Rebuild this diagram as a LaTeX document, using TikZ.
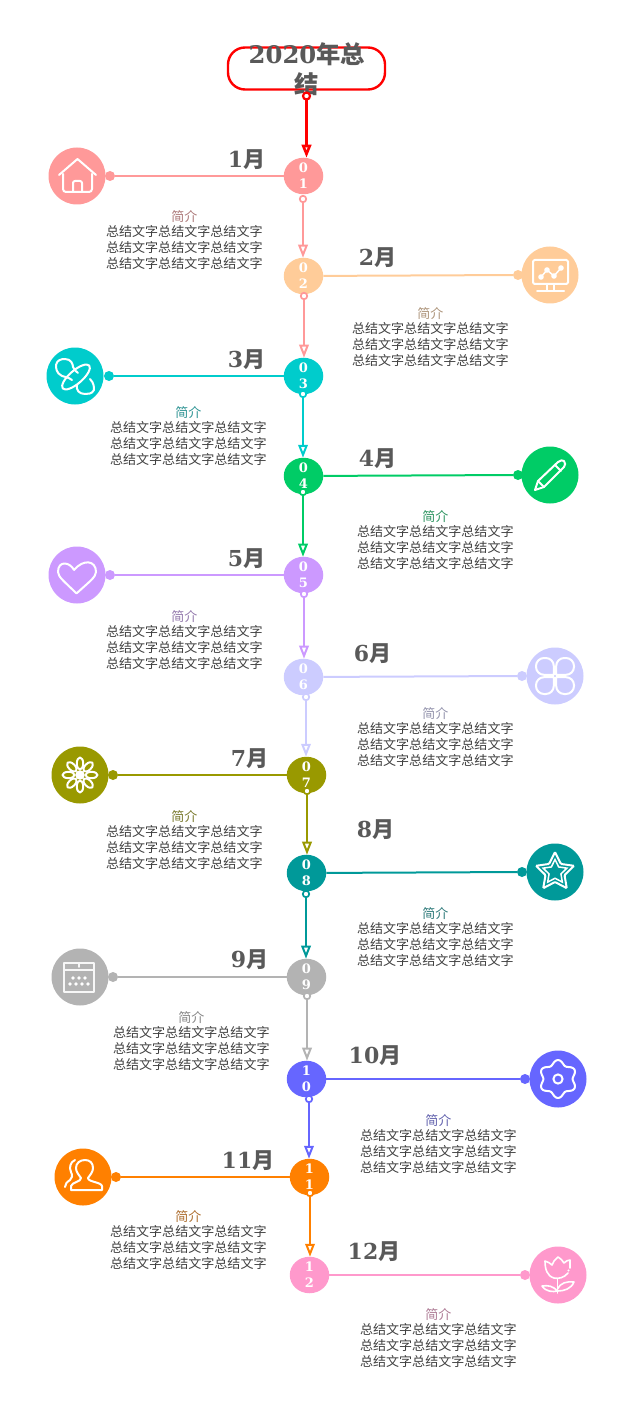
\documentclass[tikz,border=0pt]{standalone}
\usepackage{fontspec}
\setmainfont{DejaVu Serif}
\newfontfamily\cjk{Noto Sans CJK SC}
\usetikzlibrary{arrows.meta,shapes.geometric}
\definecolor{c1}{HTML}{FF9999}
\definecolor{c2}{HTML}{FFCC99}
\definecolor{c3}{HTML}{00CCCC}
\definecolor{c4}{HTML}{00CC66}
\definecolor{c5}{HTML}{CC99FF}
\definecolor{c6}{HTML}{CCCCFF}
\definecolor{c7}{HTML}{999900}
\definecolor{c8}{HTML}{009999}
\definecolor{c9}{HTML}{B3B3B3}
\definecolor{c10}{HTML}{6666FF}
\definecolor{c11}{HTML}{FF8000}
\definecolor{c12}{HTML}{FF99CC}
\definecolor{inkgrey}{HTML}{595959}
\definecolor{bodygrey}{HTML}{404040}
\tikzset{
  x=1pt,y=-1pt,
  monthnode/.style={ellipse,minimum width=39.5pt,minimum height=36.5pt,inner sep=0pt,outer sep=0pt,text=white,align=center,font=\fontsize{13}{16}\selectfont\bfseries},
  iconnode/.style={circle,minimum size=57pt,inner sep=0pt,outer sep=0pt},
  dotnode/.style={circle,minimum size=10pt,inner sep=0pt,outer sep=0pt},
  ringnode/.style={circle,minimum size=6.5pt,inner sep=0pt,outer sep=0pt,fill=white,line width=1.7pt},
  monthlabel/.style={text=inkgrey,inner sep=0pt,font=\fontsize{22}{26}\selectfont\bfseries},
  introhead/.style={inner sep=0pt,font=\cjk\fontsize{13}{16}\selectfont},
  introbody/.style={inner sep=0pt,text=bodygrey,align=center,font=\cjk\fontsize{13.05}{16}\selectfont},
  linkline/.style={line width=2pt},
  flowline/.style={line width=2pt,-{Triangle[open,length=13pt,width=9.5pt]}},
  glyph/.style={draw=white,line width=2pt,line cap=round,line join=round},
}
% num, ellipse, icon, dot, label, digits, text x, head y, ellipse text
\newcommand{\MonthRow}[9]{%
  \node[monthnode,fill=c#1] (e#1) at (#2) {#9};
  \node[iconnode,fill=c#1] (i#1) at (#3) {};
  \node[dotnode,fill=c#1] (d#1) at (#4) {};
  \node[monthlabel] (m#1) at (#5) {#6{\cjk\bfseries 月}};
  \node[introhead,text=c#1!50!inkgrey] (h#1) at (#7,#8+0.7) {简介};
  \node[introbody,anchor=north] (b#1) at (#7,#8+9.2) {总结文字总结文字总结文字\\总结文字总结文字总结文字\\总结文字总结文字总结文字};
  \draw[linkline,draw=c#1] (e#1) -- (d#1);
}
\begin{document}
\begin{tikzpicture}
\useasboundingbox (0,0) rectangle (617,1412);
\node[draw=red,line width=2.4pt,rounded corners=17pt,minimum width=157pt,minimum height=42pt,inner sep=0pt] (title) at (306.5,68.5) {};
\node[inner sep=0pt,text=inkgrey,align=center,font=\fontsize{24.3}{30}\selectfont\bfseries] (titletext) at (306.8,69.5) {2020{\cjk\bfseries 年总}\\{\cjk\bfseries 结}};
\node[ringnode,draw=red,line width=2.2pt,minimum size=7pt] (r0) at (306.5,96) {};
\MonthRow{1}{303.5,176}{77,176}{110,176}{246.5,160}{1}{184.3}{216}{0\\1}
\MonthRow{2}{303.5,276}{550,275}{518,275}{377.5,258}{2}{430.3}{313}{0\\2}
\MonthRow{3}{303.5,376}{75,376}{109,376}{246.5,360}{3}{188.3}{412}{0\\3}
\MonthRow{4}{303.5,476}{550,475}{518,475}{377.5,459}{4}{435.3}{516}{0\\4}
\MonthRow{5}{303.5,575}{77,575}{110,575}{246.5,559}{5}{184.3}{616}{0\\5}
\MonthRow{6}{303.5,677}{555,676}{522,676}{372.5,654}{6}{435.3}{713}{0\\6}
\MonthRow{7}{306.5,775}{80,775}{113,775}{249.5,759}{7}{184.3}{816}{0\\7}
\MonthRow{8}{306.5,873}{555,872}{522,872}{375.5,830}{8}{435.3}{913}{0\\8}
\MonthRow{9}{306.5,977}{80,977}{113,977}{249.5,960}{9}{191.3}{1017}{0\\9}
\MonthRow{10}{306.5,1079}{558,1079}{525,1079}{375,1056}{10}{438.3}{1120}{1\\0}
\MonthRow{11}{309.5,1177}{83,1177}{116,1177}{248,1161}{11}{188.3}{1216}{1\\1}
\MonthRow{12}{309.5,1275}{558,1275}{525,1275}{374,1252}{12}{438.3}{1314}{1\\2}
% rings
\node[ringnode,draw=c1] (r1) at (303,199) {};
\node[ringnode,draw=c1] (r2) at (304,296) {};
\node[ringnode,draw=c3] (r3) at (303,394) {};
\node[ringnode,draw=c4] (r4) at (303,492) {};
\node[ringnode,draw=c5] (r5) at (304,594) {};
\node[ringnode,draw=c6] (r6) at (306,697) {};
\node[ringnode,draw=c7] (r7) at (307,791) {};
\node[ringnode,draw=c8] (r8) at (306,894) {};
\node[ringnode,draw=c9] (r9) at (307,996) {};
\node[ringnode,draw=c10] (r10) at (309,1099) {};
\node[ringnode,draw=c11] (r11) at (310,1193) {};
% flow
\draw[flowline,draw=red,line width=2.6pt] (r0) -- (r0 |- e1.north);
\draw[flowline,draw=c1] (r1) -- (r1 |- e2.north);
\draw[flowline,draw=c1] (r2) -- (r2 |- e3.north);
\draw[flowline,draw=c3] (r3) -- (r3 |- e4.north);
\draw[flowline,draw=c4] (r4) -- (r4 |- e5.north);
\draw[flowline,draw=c5] (r5) -- (r5 |- e6.north);
\draw[flowline,draw=c6] (r6) -- (r6 |- e7.north);
\draw[flowline,draw=c7] (r7) -- (r7 |- e8.north);
\draw[flowline,draw=c8] (r8) -- (r8 |- e9.north);
\draw[flowline,draw=c9] (r9) -- (r9 |- e10.north);
\draw[flowline,draw=c10] (r10) -- (r10 |- e11.north);
\draw[flowline,draw=c11] (r11) -- (r11 |- e12.north);
% house
\begin{scope}[shift={(i1)},glyph]
\draw (-18,-1) -- (0.5,-17) -- (19,-1);
\draw (-14,-2) -- (-14,12) [rounded corners=3pt] -- (-14,16) -- (15,16) -- (15,-2);
\draw (-4,16) [rounded corners=2pt] -- (-4,5) -- (5,5) -- (5,16);
\end{scope}
% monitor
\begin{scope}[shift={(i2)},glyph]
\draw[rounded corners=1.5pt] (-17,-15) rectangle (18,9);
\draw (-3,9) -- (-3,15) (4,9) -- (4,15) (-13,16) -- (14,16);
\draw[line width=1.5pt] (-9,2) -- (-3,-5) -- (4,1) -- (11,-7);
\foreach \p in {(-9,2),(-3,-5),(4,1),(11,-7)} \fill[white] \p circle (2.8);
\end{scope}
% pacifier
\begin{scope}[shift={(i3)},glyph]
\draw[rotate around={41:(1,1)}] (1,1) ellipse (17.5 and 6.5);
\draw (-3,4) .. controls (-7,1) and (-10,1) .. (-13,0) .. controls (-19,-3) and (-19,-8) .. (-19,-11) .. controls (-18,-16) and (-14,-17) .. (-10,-17) .. controls (-4,-17) and (-2,-12) .. (-2,-9) .. controls (-1,-6) and (1,-5) .. (3,-3);
\draw (15,3) .. controls (19,7) and (19,11) .. (19,14) .. controls (17,18) and (13,18) .. (10,18) .. controls (4,18) and (1,14) .. (2,9);
\end{scope}
% heart
\begin{scope}[shift={(i5)},glyph]
\draw (-3,-5) .. controls (-7,-13) and (-19,-15) .. (-19,-3) .. controls (-19,2) and (-12,7) .. (-1,18) -- (0,18) .. controls (12,7) and (19,2) .. (19,-3) .. controls (19,-15) and (6,-16) .. (-3,-5);
\end{scope}
% clover
\begin{scope}[shift={(i6)},glyph]
\foreach \sx/\sy in {1/1,-1/1,1/-1,-1/-1}{
\draw[xscale=\sx,yscale=\sy] (1.2,1.2) [rounded corners=8pt] -- (19,1.2) -- (19,18) -- (1.2,18) [sharp corners] -- (1.2,1.2);
}
\end{scope}
% flower
\begin{scope}[shift={(i7)},glyph]
\fill[white] (0,0) circle (4.8);
\foreach \a in {0,45,...,315}{\draw[rotate=\a] (11.5,0) ellipse (6 and 3.2);}
\end{scope}
% star
\begin{scope}[shift={(i8)}]
\node[star,star points=5,star point ratio=2,minimum size=40pt,inner sep=0pt,draw=white,line width=2pt,rounded corners=1pt] (s1) at (0,0) {};
\node[star,star points=5,star point ratio=2,minimum size=25pt,inner sep=0pt,draw=white,line width=1.5pt] (s2) at (0,0) {};
\end{scope}
% calendar
\begin{scope}[shift={(i9)},glyph,draw=white!90!c9,line width=1.5pt]
\draw (-16,-14) rectangle (14,15);
\draw (-16,-7) -- (14,-7) (-1,-14) -- (-1,-10);
\foreach \x in {-7,-1,5}\fill[white] (\x,1) circle (1.9);
\foreach \x in {-10,-4,2,8}\fill[white] (\x,7) circle (1.9);
\end{scope}
% gear
\begin{scope}[shift={(i10)},glyph]
\draw plot[smooth,domain=0:360,samples=73] ({(16.8-2.2*cos(6*\x))*cos(\x)},{(16.8-2.2*cos(6*\x))*sin(\x)}) -- cycle;
\draw (0,0) circle (4.6);
\end{scope}
% people
\begin{scope}[shift={(i11)},glyph]
\draw (-12,13) -- (-12,9) .. controls (-11,5) and (-2,5) .. (-2,1) .. controls (-4,-2) and (-7,-5) .. (-7,-9) .. controls (-7,-14) and (-3,-17) .. (2,-17) .. controls (7,-17) and (10,-14) .. (10,-9) .. controls (10,-5) and (7,-2) .. (5,1) .. controls (5,5) and (18,5) .. (19,9) -- (19,13) -- cycle;
\draw (-8,-17) .. controls (-13,-15) and (-14,-9) .. (-12,-5) .. controls (-10,-1) and (-11,1) .. (-13,3) .. controls (-16,5) and (-18,7) .. (-18,10);
\end{scope}
% tulip
\begin{scope}[shift={(i12)},glyph,line width=1.6pt]
\draw (10,-2) .. controls (6,3) and (0,4) .. (-4,3) .. controls (-11,1) and (-13,-6) .. (-13,-14) .. controls (-10,-13) and (-8,-12) .. (-6,-10) .. controls (-5,-13) and (-3,-16) .. (0,-18) .. controls (3,-16) and (5,-14) .. (6,-12) .. controls (8,-14) and (10,-15) .. (12,-15) .. controls (12,-12) and (12,-9) .. (12,-7);
\fill[white] (10.5,-4.5) circle (1.1);
\draw (-0.5,3.5) -- (-0.5,18);
\draw (-0.5,16) .. controls (-5,11) and (-10,10) .. (-16,11) .. controls (-12,17) and (-5,17) .. (-0.5,16);
\draw (-0.5,14) .. controls (2,8) and (9,6) .. (16,7) .. controls (13,14) and (6,16) .. (-0.5,16);
\end{scope}
% pencil
\begin{scope}[shift={(i4)},glyph]
\draw (-15,15) -- (-12,6) -- (8,-13) .. controls (10,-15) and (13,-15) .. (14,-14) .. controls (16,-12) and (15,-10) .. (14,-8) -- (-6,12) -- cycle;
\draw (-12,6) -- (-6,12) (5,-10) -- (11,-4);
\end{scope}
\end{tikzpicture}
\end{document}
